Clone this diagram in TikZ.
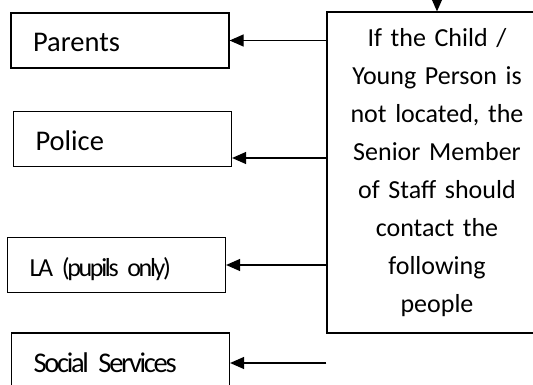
\documentclass[tikz,border=0pt]{standalone}
\usepackage{fontspec}
\setmainfont{Carlito}[WordSpace=0.85]
\newfontfamily\lafont{Carlito}[LetterSpace=-9,WordSpace=0.6]
\newfontfamily\ssfont{Carlito}[LetterSpace=-8,WordSpace=0.7]
\usetikzlibrary{arrows.meta}
\begin{document}
\begin{tikzpicture}[x=1pt,y=-1pt,
  lbox/.style={draw, line width=1.2pt, minimum height=55pt, text width=174pt,
    inner xsep=22pt, inner ysep=0pt, align=left, text height=26pt, text depth=3pt,
    font=\fontsize{28.5}{34}\selectfont},
  bigbox/.style={draw, line width=1.2pt, text width=220pt, inner sep=0pt, align=center,
    text height=35pt, text depth=286pt, anchor=base,
    font=\fontsize{26}{37.86}\selectfont},
  arr/.style={line width=1.2pt, -{Triangle[length=14pt,width=12pt]}}]
\useasboundingbox (0,0) rectangle (533,385);
\clip (0,0) rectangle (533,385);
\node[lbox] (par) at (120,40.5) {Parents};
\node[lbox] (pol) at (122.5,139) {Police};
\node[lbox, font={\lafont\fontsize{26}{34}\selectfont}] (la) at (116.5,265) {LA (pupils only)};
\node[lbox, font={\ssfont\fontsize{28.5}{34}\selectfont}] (ss) at (120.5,360.5) {Social Services};
\node[bigbox] (big) at (437,47) {If the Child /\\ Young Person is\\ not located, the\\ Senior Member\\ of Staff should\\ contact the\\ following\\ people};
\draw[arr] (big.west |- par.east) -- (par.east);
\coordinate (polA) at ([yshift=-19pt]pol.east);
\draw[arr] (big.west |- polA) -- (polA);
\draw[arr] (big.west |- la.east) -- (la.east);
\coordinate (ssA) at ([yshift=-2.5pt]ss.east);
\coordinate (ssfree) at (big.west |- ssA);
\draw[arr] (ssfree) -- (ssA);
\coordinate (topfree) at (437,-10);
\draw[arr] (topfree) -- (big.north);
\end{tikzpicture}
\end{document}
